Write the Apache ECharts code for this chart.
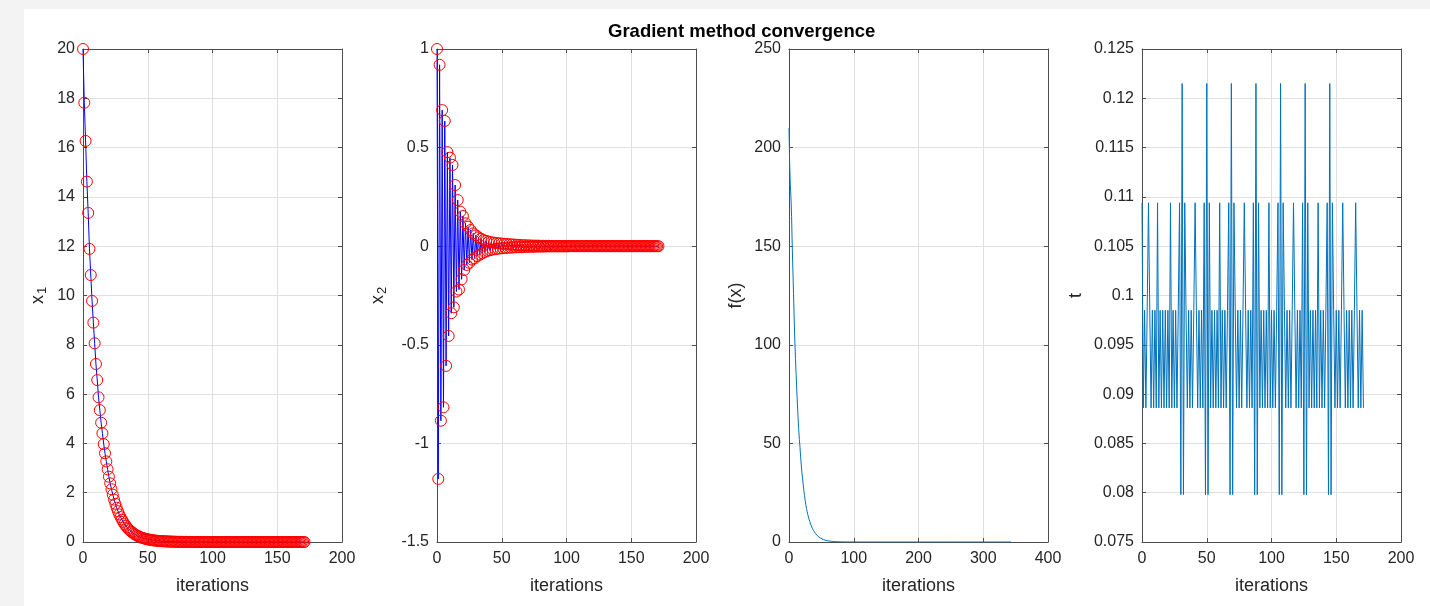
<!DOCTYPE html>
<html>
<head>
<meta charset="utf-8">
<title>Gradient method convergence</title>
<script src="https://cdn.jsdelivr.net/npm/echarts@6/dist/echarts.min.js"></script>
<style>
  html, body { margin: 0; padding: 0; background: #ffffff; }
  #main { width: 1430px; height: 606px; }
</style>
</head>
<body>
<div id="main"></div>
<script>
// iterate x1 (one value per iteration, starting at iteration 0)
var x1Values = [
  20, 17.82, 16.27, 14.62, 13.35, 11.89, 10.83, 9.78, 8.90, 8.06,
  7.22, 6.57, 5.87, 5.35, 4.84, 4.41, 3.97, 3.60, 3.27, 2.95,
  2.65, 2.38, 2.14, 1.92, 1.72, 1.55, 1.39, 1.25, 1.12, 1.01,
  0.91, 0.82, 0.73, 0.66, 0.59, 0.53, 0.48, 0.43, 0.39, 0.35,
  0.31, 0.28, 0.25, 0.23, 0.20, 0.18, 0.165, 0.148, 0.133, 0.12,
  0.108, 0.097, 0.087, 0.078, 0.07, 0.063, 0.057, 0.051, 0.046, 0.041,
  0.037, 0.033, 0.03, 0.027, 0.024, 0.022, 0.02, 0.018, 0.016, 0.014,
  0.013, 0.012, 0.01, 0.009, 0.008, 0.008, 0.007, 0.006, 0.006, 0.005,
  0.005, 0.004, 0.004, 0.003, 0.003, 0.003, 0.002, 0.002, 0.002, 0.002,
  0.001, 0.001, 0.001, 0.001, 0.001, 0.001, 0.001, 0.001, 0.001, 0.001,
  0.001, 0.001, 0, 0, 0, 0, 0, 0, 0, 0,
  0, 0, 0, 0, 0, 0, 0, 0, 0, 0,
  0, 0, 0, 0, 0, 0, 0, 0, 0, 0,
  0, 0, 0, 0, 0, 0, 0, 0, 0, 0,
  0, 0, 0, 0, 0, 0, 0, 0, 0, 0,
  0, 0, 0, 0, 0, 0, 0, 0, 0, 0,
  0, 0, 0, 0, 0, 0, 0, 0, 0, 0,
  0, 0
];

// iterate x2 (oscillates around 0)
var x2Values = [
  1.0, -1.18, 0.92, -0.885, 0.69, -0.817, 0.635, -0.607, 0.477, -0.455,
  0.449, -0.34, 0.412, -0.31, 0.31, -0.23, 0.234, -0.22, 0.175, -0.168,
  0.153, -0.121, 0.116, -0.095, 0.099, -0.084, 0.082, -0.068, 0.065, -0.062,
  0.055, -0.05, 0.045, -0.043, 0.038, -0.036, 0.031, -0.029, 0.027, -0.024,
  0.023, -0.02, 0.02, -0.017, 0.018, -0.015, 0.016, -0.013, 0.015, -0.011,
  0.013, -0.01, 0.012, -0.009, 0.011, -0.008, 0.01, -0.007, 0.009, -0.006,
  0.008, -0.006, 0.007, -0.005, 0.006, -0.005, 0.005, -0.004, 0.005, -0.004,
  0.004, -0.003, 0.004, -0.003, 0.003, -0.003, 0.003, -0.002, 0.003, -0.002,
  0.002, -0.002, 0.002, -0.002, 0.002, -0.001, 0.002, -0.001, 0.001, -0.001,
  0.001, -0.001, 0.001, -0.001, 0.001, -0.001, 0.001, -0.001, 0.001, -0.001,
  0.001, -0.001, 0.001, 0, 0.001, 0, 0, 0, 0, 0,
  0, 0, 0, 0, 0, 0, 0, 0, 0, 0,
  0, 0, 0, 0, 0, 0, 0, 0, 0, 0,
  0, 0, 0, 0, 0, 0, 0, 0, 0, 0,
  0, 0, 0, 0, 0, 0, 0, 0, 0, 0,
  0, 0, 0, 0, 0, 0, 0, 0, 0, 0,
  0, 0, 0, 0, 0, 0, 0, 0, 0, 0,
  0, 0
];

// objective value f(x), two entries per iteration
var fValues = [
  210, 192, 181, 175, 165, 150, 138, 126, 113, 102,
  93, 85, 77, 70, 63, 57, 52, 48, 43, 39,
  35, 32, 29, 26, 23.5, 21, 19, 17, 15.5, 14,
  12.7, 11.5, 10.4, 9.4, 8.5, 7.7, 7.0, 6.3, 5.7, 5.2,
  4.7, 4.2, 3.8, 3.4, 3.1, 2.8, 2.5, 2.3, 2.1, 1.9,
  1.7, 1.5, 1.4, 1.25, 1.13, 1.02, 0.92, 0.83, 0.75, 0.68,
  0.61, 0.55, 0.5, 0.45, 0.41, 0.37, 0.33, 0.3, 0.27, 0.24,
  0.22, 0.2, 0.18, 0.16, 0.145, 0.13, 0.12, 0.105, 0.095, 0.085,
  0.077, 0.07, 0.063, 0.057, 0.051, 0.046, 0.041, 0.037, 0.034, 0.03,
  0.027, 0.025, 0.022, 0.02, 0.018, 0.016, 0.015, 0.013, 0.012, 0.011,
  0.01, 0.009, 0.008, 0.007, 0.006, 0.006, 0.005, 0.005, 0.004, 0.004,
  0.003, 0.003, 0.003, 0.003, 0.002, 0.002, 0.002, 0.002, 0.002, 0.002,
  0.001, 0.001, 0.001, 0.001, 0.001, 0.001, 0.001, 0.001, 0.001, 0.001,
  0.001, 0.001, 0.001, 0.001, 0.001, 0.001, 0.001, 0.001, 0.001, 0.001,
  0, 0, 0, 0, 0, 0, 0, 0, 0, 0, 0, 0, 0, 0, 0, 0, 0, 0, 0, 0,
  0, 0, 0, 0, 0, 0, 0, 0, 0, 0, 0, 0, 0, 0, 0, 0, 0, 0, 0, 0,
  0, 0, 0, 0, 0, 0, 0, 0, 0, 0, 0, 0, 0, 0, 0, 0, 0, 0, 0, 0,
  0, 0, 0, 0, 0, 0, 0, 0, 0, 0, 0, 0, 0, 0, 0, 0, 0, 0, 0, 0,
  0, 0, 0, 0, 0, 0, 0, 0, 0, 0, 0, 0, 0, 0, 0, 0, 0, 0, 0, 0,
  0, 0, 0, 0, 0, 0, 0, 0, 0, 0, 0, 0, 0, 0, 0, 0, 0, 0, 0, 0,
  0, 0, 0, 0, 0, 0, 0, 0, 0, 0, 0, 0, 0, 0, 0, 0, 0, 0, 0, 0,
  0, 0, 0, 0, 0, 0, 0, 0, 0, 0, 0, 0, 0, 0, 0, 0, 0, 0, 0, 0,
  0, 0, 0, 0, 0, 0, 0, 0, 0, 0, 0, 0, 0, 0, 0, 0, 0, 0, 0, 0,
  0, 0, 0, 0, 0, 0, 0, 0, 0, 0, 0, 0, 0, 0, 0, 0, 0, 0, 0, 0,
  0, 0, 0, 0
];

// step size t per iteration
var tValues = [
  0.1094, 0.0886, 0.0985, 0.0886, 0.0985, 0.1094, 0.0985, 0.0886, 0.0985, 0.0886,
  0.0985, 0.0886, 0.1094, 0.0886, 0.0985, 0.0886, 0.0985, 0.0886, 0.0985, 0.0886,
  0.0985, 0.0886, 0.1094, 0.0886, 0.0985, 0.0886, 0.0985, 0.0886, 0.0985, 0.1094,
  0.0798, 0.1215, 0.0798, 0.1094, 0.0985, 0.0886, 0.0985, 0.0886, 0.0985, 0.0886,
  0.0985, 0.1094, 0.0985, 0.0886, 0.0985, 0.0886, 0.0985, 0.0886, 0.1094, 0.0798,
  0.1215, 0.0798, 0.1094, 0.0886, 0.0985, 0.0886, 0.0985, 0.0886, 0.0985, 0.0886,
  0.1094, 0.0886, 0.0985, 0.0886, 0.0985, 0.0886, 0.0985, 0.1094, 0.0798, 0.1215,
  0.0798, 0.1094, 0.0985, 0.0886, 0.0985, 0.0886, 0.0985, 0.0886, 0.0985, 0.1094,
  0.0985, 0.0886, 0.0985, 0.0886, 0.0985, 0.0886, 0.1094, 0.0798, 0.1215, 0.0798,
  0.1094, 0.0886, 0.0985, 0.0886, 0.0985, 0.0886, 0.0985, 0.0886, 0.1094, 0.0886,
  0.0985, 0.0886, 0.0985, 0.0886, 0.0985, 0.1094, 0.0798, 0.1215, 0.0798, 0.1094,
  0.0985, 0.0886, 0.0985, 0.0886, 0.0985, 0.0886, 0.0985, 0.1094, 0.0985, 0.0886,
  0.0985, 0.0886, 0.0985, 0.0886, 0.1094, 0.0798, 0.1215, 0.0798, 0.1094, 0.0886,
  0.0985, 0.0886, 0.0985, 0.0886, 0.0985, 0.0886, 0.1094, 0.0886, 0.0985, 0.0886,
  0.0985, 0.0886, 0.0985, 0.1094, 0.0798, 0.1215, 0.0798, 0.1094, 0.0985, 0.0886,
  0.0985, 0.0886, 0.0985, 0.0886, 0.0985, 0.1094, 0.0985, 0.0886, 0.0985, 0.0886,
  0.0985, 0.0886, 0.0985, 0.0886, 0.0985, 0.1094, 0.0985, 0.0886, 0.0985, 0.0886,
  0.0985, 0.0886
];

var FONT = 'Liberation Sans, Arial, Helvetica, sans-serif';
var TEXT = '#262626';
var AXIS = '#4d4d4d';
var GRIDLINE = '#e0e0e0';

var plotLefts = [83, 437, 789, 1142];
var plotWidth = 259;
var plotTop = 49;
var plotHeight = 493;

function pairs(arr) {
  return arr.map(function (v, i) { return [i, v]; });
}

function fmt(v) {
  return String(parseFloat(v.toFixed(4)));
}

var grids = plotLefts.map(function (l) {
  return { left: l, top: plotTop, width: plotWidth, height: plotHeight };
});

var xRanges = [[0, 200, 50], [0, 200, 50], [0, 400, 100], [0, 200, 50]];
var yRanges = [[0, 20, 2], [-1.5, 1, 0.5], [0, 250, 50], [0.075, 0.125, 0.005]];
var yNames = ['{a|x}{s|1}', '{a|x}{s|2}', 'f(x)', 't'];
var yGaps = [34, 48, 44, 57];

var nameRich = {
  a: { fontFamily: FONT, fontSize: 18, color: TEXT },
  s: { fontFamily: FONT, fontSize: 13, color: TEXT, padding: [9, 0, 0, 1] }
};

var xAxes = [], yAxes = [];
xRanges.forEach(function (r, i) {
  xAxes.push({
    type: 'value', gridIndex: i, position: 'bottom',
    min: r[0], max: r[1], interval: r[2],
    name: 'iterations', nameLocation: 'middle', nameGap: 35,
    nameTextStyle: { fontFamily: FONT, fontSize: 18, color: TEXT },
    axisLine: { show: true, onZero: false, lineStyle: { color: AXIS, width: 1 } },
    axisTick: { show: true, inside: true, length: 4, lineStyle: { color: AXIS } },
    axisLabel: { fontFamily: FONT, fontSize: 16, color: TEXT, margin: 9, formatter: fmt },
    splitLine: { show: true, lineStyle: { color: GRIDLINE, width: 1 } }
  });
});
xRanges.forEach(function (r, i) {
  xAxes.push({
    type: 'value', gridIndex: i, position: 'top',
    min: r[0], max: r[1], interval: r[2],
    axisLine: { show: true, onZero: false, lineStyle: { color: AXIS, width: 1 } },
    axisTick: { show: true, inside: true, length: 4, lineStyle: { color: AXIS } },
    axisLabel: { show: false },
    splitLine: { show: false }
  });
});
yRanges.forEach(function (r, i) {
  yAxes.push({
    type: 'value', gridIndex: i, position: 'left',
    min: r[0], max: r[1], interval: r[2],
    name: yNames[i], nameLocation: 'middle', nameGap: yGaps[i],
    nameTextStyle: { fontFamily: FONT, fontSize: 18, color: TEXT, rich: nameRich },
    axisLine: { show: true, onZero: false, lineStyle: { color: AXIS, width: 1 } },
    axisTick: { show: true, inside: true, length: 4, lineStyle: { color: AXIS } },
    axisLabel: { fontFamily: FONT, fontSize: 16, color: TEXT, margin: 8, formatter: fmt },
    splitLine: { show: true, lineStyle: { color: GRIDLINE, width: 1 } }
  });
});
yRanges.forEach(function (r, i) {
  yAxes.push({
    type: 'value', gridIndex: i, position: 'right',
    min: r[0], max: r[1], interval: r[2],
    axisLine: { show: true, onZero: false, lineStyle: { color: AXIS, width: 1 } },
    axisTick: { show: true, inside: true, length: 4, lineStyle: { color: AXIS } },
    axisLabel: { show: false },
    splitLine: { show: false }
  });
});

var circleSeries = function (arr, idx) {
  return {
    type: 'line', xAxisIndex: idx, yAxisIndex: idx,
    data: pairs(arr),
    clip: false,
    showSymbol: true, showAllSymbol: true,
    symbol: 'circle', symbolSize: 11,
    itemStyle: { color: 'rgba(255,255,255,0)', borderColor: '#ff0000', borderWidth: 1 },
    lineStyle: { color: '#0000ff', width: 1 },
    emphasis: { disabled: true },
    z: 3
  };
};

var plainSeries = function (arr, idx) {
  return {
    type: 'line', xAxisIndex: idx, yAxisIndex: idx,
    data: pairs(arr),
    showSymbol: false,
    lineStyle: { color: '#0072BD', width: 1 },
    emphasis: { disabled: true },
    z: 3
  };
};

var chart = echarts.init(document.getElementById('main'), null, { renderer: 'canvas' });
chart.setOption({
  animation: false,
  backgroundColor: '#ffffff',
  title: {
    text: 'Gradient method convergence',
    left: 603, top: 17,
    textStyle: { fontFamily: FONT, fontSize: 18.5, fontWeight: 'bold', color: '#000000' }
  },
  graphic: [
    { type: 'rect', left: 0, top: 0, shape: { width: 24, height: 606 }, style: { fill: '#f3f3f3' }, z: -1 },
    { type: 'rect', left: 0, top: 0, shape: { width: 1430, height: 9 }, style: { fill: '#f3f3f3' }, z: -1 }
  ],
  grid: grids,
  xAxis: xAxes,
  yAxis: yAxes,
  series: [
    circleSeries(x1Values, 0),
    circleSeries(x2Values, 1),
    plainSeries(fValues, 2),
    plainSeries(tValues, 3)
  ]
});
</script>
</body>
</html>
